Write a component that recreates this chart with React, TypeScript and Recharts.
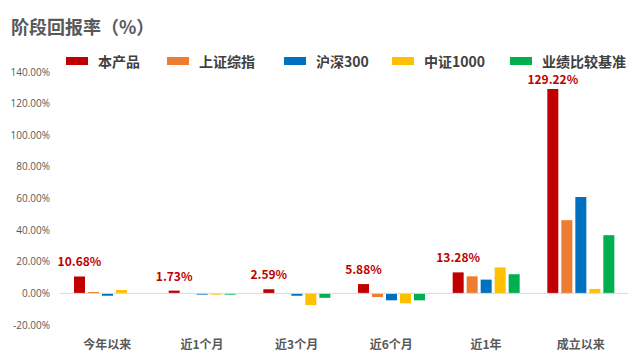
import { BarChart, Bar, XAxis, YAxis, ReferenceLine, LabelList } from 'recharts';

const categories = ['今年以来', '近1个月', '近3个月', '近6个月', '近1年', '成立以来'];
const product = [10.68, 1.73, 2.59, 5.88, 13.28, 129.22];
const sse = [0.9, 0, 0, -2.3, 10.8, 46.3];
const hs300 = [-1.5, -0.8, -1.5, -4.4, 8.7, 61.0];
const zz1000 = [2.1, -0.8, -7.4, -6.3, 16.4, 2.8];
const bench = [0, -0.8, -2.8, -4.4, 12.1, 36.8];
const yTicks = [-20, 0, 20, 40, 60, 80, 100, 120, 140];

const SERIES = [
  { key: 'product', name: '本产品', color: '#C00000' },
  { key: 'sse', name: '上证综指', color: '#ED7D31' },
  { key: 'hs300', name: '沪深300', color: '#0070C0' },
  { key: 'zz1000', name: '中证1000', color: '#FFC000' },
  { key: 'bench', name: '业绩比较基准', color: '#00B050' },
];
// 범례 항목 x 위치
const LEGEND_X = [66, 167, 284, 392, 510];

const data = categories.map((name, i) => ({
  name,
  product: product[i],
  sse: sse[i],
  hs300: hs300[i],
  zz1000: zz1000[i],
  bench: bench[i],
}));

const FONT = '"Microsoft YaHei", "Noto Sans CJK SC", sans-serif';

// 막대 위 라벨 (범례와 겹치지 않도록 위쪽 제한)
const renderTopLabel = (props: any) => {
  const { x, y, width, value } = props;
  const baseY = Math.max(Number(y) - 10, 84);
  return (
    <text
      x={Number(x) + Number(width) / 2}
      y={baseY}
      textAnchor="middle"
      fontSize={12}
      fontWeight={700}
      fill="#C00000"
      fontFamily={FONT}
    >
      {`${Number(value).toFixed(2)}%`}
    </text>
  );
};

export default function App() {
  return (
    <div style={{ position: 'absolute', left: 0, top: 0, width: 640, height: 361, background: '#fff' }}>
      <div
        style={{
          position: 'absolute',
          left: 11,
          top: 13,
          fontFamily: FONT,
          fontSize: 18,
          fontWeight: 700,
          color: '#595959',
        }}
      >
        阶段回报率（%）
      </div>
      {SERIES.map((s, i) => (
        <div
          key={s.key}
          style={{
            position: 'absolute',
            left: LEGEND_X[i],
            top: 51,
            height: 20,
            display: 'flex',
            alignItems: 'center',
            fontFamily: FONT,
            zIndex: 2,
          }}
        >
          <span style={{ width: 22, height: 8, background: s.color, display: 'inline-block', marginRight: 10 }} />
          <span style={{ fontSize: 14, fontWeight: 700, color: '#404040' }}>{s.name}</span>
        </div>
      ))}
      <BarChart
        width={640}
        height={361}
        data={data}
        margin={{ top: 72, right: 12, bottom: 0, left: 0 }}
        barSize={11}
        barGap={3}
      >
        <XAxis
          dataKey="name"
          axisLine={false}
          tickLine={false}
          height={36}
          tickMargin={9}
          tick={{ fontSize: 12, fontWeight: 700, fill: '#595959', fontFamily: FONT }}
        />
        <YAxis
          width={60}
          domain={[-20, 140]}
          ticks={yTicks}
          axisLine={false}
          tickLine={false}
          tickMargin={4}
          tickFormatter={(v: number) => `${v.toFixed(2)}%`}
          tick={{ fontSize: 10, fill: '#595959', fontFamily: '"Open Sans", sans-serif' }}
        />
        <ReferenceLine y={0} stroke="#d9d9d9" strokeWidth={1} />
        {SERIES.map((s) => (
          <Bar key={s.key} dataKey={s.key} name={s.name} fill={s.color} isAnimationActive={false}>
            {s.key === 'product' && <LabelList dataKey="product" content={renderTopLabel} />}
          </Bar>
        ))}
      </BarChart>
    </div>
  );
}
